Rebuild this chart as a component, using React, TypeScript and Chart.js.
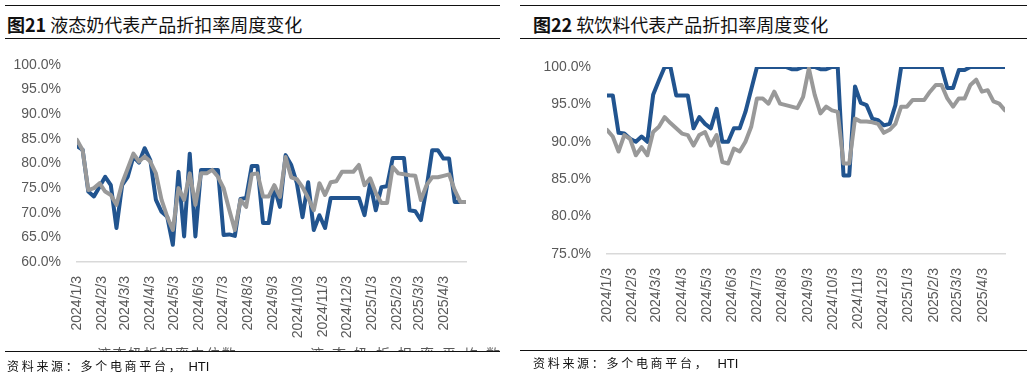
import React, { useEffect, useRef } from "react";
import { Chart, registerables } from "chart.js";

Chart.register(...registerables);

// ---- Data ----
const tickLabels = [
  "2024/1/3", "2024/2/3", "2024/3/3", "2024/4/3", "2024/5/3", "2024/6/3",
  "2024/7/3", "2024/8/3", "2024/9/3", "2024/10/3", "2024/11/3", "2024/12/3",
  "2025/1/3", "2025/2/3", "2025/3/3", "2025/4/3",
];

// 液态奶 (liquid milk) weekly discount rate, %
const milkMedian = [
  83.5, 82.8, 74.3, 73.3, 75.3, 77.3, 75.6, 66.9, 75.6, 77.3,
  81.4, 80.2, 83.1, 80.7, 72.6, 70.2, 69.2, 63.5, 78.3, 65.2,
  82.0, 65.2, 78.7, 78.7, 78.7, 78.7, 65.5, 65.6, 65.3, 72.8,
  73.0, 79.5, 79.5, 67.9, 67.9, 75.2, 71.2, 81.7, 79.7, 76.0,
  69.1, 76.2, 66.5, 69.5, 66.9, 73.0, 73.0, 73.0, 73.0, 73.0,
  73.0, 69.5, 76.0, 70.5, 75.2, 75.4, 81.1, 81.1, 81.1, 70.5,
  70.3, 68.5, 75.0, 82.7, 82.7, 81.0, 81.0, 72.2, 72.2, 72.2,
];
const milkMean = [
  84.8, 82.7, 74.6, 75.0, 76.0, 74.3, 73.6, 71.6, 76.0, 79.0,
  82.0, 80.4, 81.4, 80.4, 78.0, 72.6, 69.2, 66.5, 75.0, 72.6,
  78.0, 71.6, 78.0, 78.0, 78.7, 77.3, 75.0, 70.6, 66.5, 72.6,
  71.2, 77.8, 78.0, 73.3, 73.3, 75.6, 73.2, 81.3, 77.2, 76.8,
  75.2, 73.0, 70.5, 76.0, 73.6, 76.2, 76.4, 78.3, 78.3, 78.3,
  79.7, 75.6, 77.0, 74.0, 72.0, 72.0, 79.3, 78.0, 77.8, 77.6,
  77.5, 72.6, 75.6, 77.2, 77.2, 77.5, 77.8, 74.6, 72.2, 72.2,
];

// 软饮料 (soft drinks) weekly discount rate, %
const drinkMedian = [
  96.2, 96.2, 91.2, 91.1, 90.4, 90.0, 90.7, 90.0, 96.3, 98.2,
  100, 100, 96.2, 96.2, 96.2, 91.8, 93.3, 92.4, 91.8, 94.4,
  90.0, 90.0, 91.8, 91.8, 94.0, 97.0, 100, 100, 100, 100,
  100, 100, 99.7, 99.7, 100, 100, 100, 99.7, 99.7, 100,
  100, 85.5, 85.5, 97.4, 95.2, 94.9, 93.1, 92.9, 92.2, 92.4,
  94.9, 100, 100, 100, 100, 100, 100, 100, 100, 97.2,
  97.2, 99.6, 99.6, 100, 100, 100, 100, 100, 100, 100,
];
const drinkMean = [
  91.6, 90.7, 88.7, 90.9, 90.4, 88.2, 89.3, 88.2, 91.3, 92.0,
  93.3, 92.5, 91.8, 91.1, 90.9, 89.5, 90.9, 91.3, 89.5, 90.9,
  87.3, 87.1, 89.1, 88.7, 90.0, 92.0, 95.8, 95.8, 95.1, 96.7,
  95.1, 94.9, 94.7, 94.5, 96.0, 99.8, 96.3, 93.8, 94.7, 94.2,
  94.0, 87.1, 87.1, 93.1, 92.7, 92.7, 92.6, 92.4, 91.2, 91.6,
  92.4, 94.7, 94.7, 95.6, 95.6, 95.6, 96.7, 97.6, 97.6, 95.8,
  94.7, 95.8, 95.8, 97.6, 98.3, 96.7, 96.9, 95.4, 95.1, 94.2,
];

const BLUE = "#21548F";
const GRAY = "#999999";
const TICK_COLOR = "#595959";
const TICK_FONT = { family: "'Liberation Sans', Arial, sans-serif", size: 14 };

const DAY = 86400000;
const START = Date.UTC(2024, 0, 3);
function dayOffset(label: string) {
  const [y, m, d] = label.split("/").map(Number);
  return Math.round((Date.UTC(y, m - 1, d) - START) / DAY);
}
const tickDays = tickLabels.map(dayOffset);

type Geo = { yw: number; xh: number; top: number; right: number };

function makeConfig(
  median: number[],
  mean: number[],
  medianLabel: string,
  meanLabel: string,
  yMin: number,
  yMax: number,
  g: Geo
): any {
  const xMax = (median.length - 1) * 7;
  const toPts = (arr: number[]) => arr.map((v, i) => ({ x: i * 7, y: v }));
  return {
    type: "line",
    data: {
      datasets: [
        {
          label: medianLabel,
          data: toPts(median),
          borderColor: BLUE,
          backgroundColor: BLUE,
          borderWidth: 4,
          pointRadius: 0,
          tension: 0,
          borderJoinStyle: "round",
          borderCapStyle: "round",
          order: 1,
        },
        {
          label: meanLabel,
          data: toPts(mean),
          borderColor: GRAY,
          backgroundColor: GRAY,
          borderWidth: 4,
          pointRadius: 0,
          tension: 0,
          borderJoinStyle: "round",
          borderCapStyle: "round",
          order: 0,
        },
      ],
    },
    options: {
      responsive: false,
      maintainAspectRatio: false,
      animation: false,
      events: [],
      layout: { padding: { top: g.top, right: g.right, bottom: 0, left: 0 } },
      plugins: { legend: { display: false }, tooltip: { enabled: false } },
      scales: {
        x: {
          type: "linear",
          min: 0,
          max: xMax,
          afterBuildTicks: (s: any) => {
            s.ticks = tickDays.map((v) => ({ value: v }));
          },
          afterFit: (s: any) => {
            s.height = g.xh;
            s.paddingLeft = 0;
            s.paddingRight = 0;
          },
          ticks: {
            autoSkip: false,
            minRotation: 90,
            maxRotation: 90,
            padding: 14,
            color: TICK_COLOR,
            font: TICK_FONT,
            callback: (_v: any, i: number) => tickLabels[i],
          },
          grid: { display: false, drawTicks: false },
          border: { display: true, color: "#D9D9D9", width: 1.5 },
        },
        y: {
          min: yMin,
          max: yMax,
          afterFit: (s: any) => {
            s.width = g.yw;
            s.paddingTop = 0;
            s.paddingBottom = 0;
          },
          ticks: {
            stepSize: 5,
            padding: 16,
            color: TICK_COLOR,
            font: TICK_FONT,
            callback: (v: any) => Number(v).toFixed(1) + "%",
          },
          grid: { display: false, drawTicks: false },
          border: { display: false },
        },
      },
    },
  };
}

function LineChart(props: {
  cfg: () => any;
  left: number;
  top: number;
  width: number;
  height: number;
}) {
  const ref = useRef<HTMLCanvasElement>(null);
  useEffect(() => {
    const chart = new Chart(ref.current as HTMLCanvasElement, props.cfg());
    return () => chart.destroy();
  }, []);
  return (
    <canvas
      ref={ref}
      width={props.width}
      height={props.height}
      style={{
        position: "absolute",
        left: props.left,
        top: props.top,
        width: props.width,
        height: props.height,
        display: "block",
      }}
    />
  );
}

const CJK = "'Noto Sans CJK SC', 'Noto Sans', sans-serif";

function Rule(p: { x: number; y: number; w: number }) {
  return (
    <div
      style={{
        position: "absolute",
        left: p.x,
        top: p.y,
        width: p.w,
        height: 1,
        background: "#111",
      }}
    />
  );
}

function Title(p: { x: number; num: string; text: string }) {
  return (
    <div
      style={{
        position: "absolute",
        left: p.x,
        top: 13,
        fontFamily: CJK,
        fontSize: 18,
        lineHeight: "22px",
        color: "#111",
        whiteSpace: "nowrap",
      }}
    >
      <span style={{ fontWeight: 700 }}>{p.num}</span>
      <span> {p.text}</span>
    </div>
  );
}

function Source(p: { x: number; y: number; gap: number }) {
  return (
    <div
      style={{
        position: "absolute",
        left: p.x,
        top: p.y,
        whiteSpace: "nowrap",
        color: "#111",
        lineHeight: "16px",
      }}
    >
      <span style={{ fontFamily: CJK, fontSize: 12, letterSpacing: 2.7 }}>
        资料来源：多个电商平台，
      </span>
      <span
        style={{
          fontFamily: "'Liberation Sans', Arial, sans-serif",
          fontSize: 13,
          marginLeft: p.gap,
        }}
      >
        HTI
      </span>
    </div>
  );
}

export default function App() {
  return (
    <div
      style={{
        position: "absolute",
        left: 0,
        top: 0,
        width: 1033,
        height: 378,
        background: "#fff",
        overflow: "hidden",
      }}
    >
      {/* Left panel */}
      <Rule x={5} y={5} w={495} />
      <Title x={7} num="图21" text="液态奶代表产品折扣率周度变化" />
      <Rule x={5} y={38} w={495} />
      <LineChart
        left={0}
        top={50}
        width={500}
        height={295}
        cfg={() =>
          makeConfig(milkMedian, milkMean, "液态奶折扣率中位数", "液态奶折扣率平均数", 60, 100, {
            yw: 77,
            xh: 83,
            top: 15,
            right: 34,
          })
        }
      />
      {/* cut-off legend fragments */}
      <div
        style={{
          position: "absolute",
          left: 0,
          top: 340,
          width: 520,
          height: 11,
          overflow: "hidden",
        }}
      >
        <div
          style={{
            position: "absolute",
            left: 97,
            top: 6,
            fontFamily: CJK,
            fontSize: 14,
            lineHeight: "14px",
            letterSpacing: 1.6,
            color: "#595959",
            whiteSpace: "nowrap",
          }}
        >
          液态奶折扣率中位数
        </div>
        <div
          style={{
            position: "absolute",
            left: 310,
            top: 6,
            fontFamily: CJK,
            fontSize: 14,
            lineHeight: "14px",
            letterSpacing: 8,
            color: "#595959",
            whiteSpace: "nowrap",
          }}
        >
          液态奶折扣率平均数
        </div>
      </div>
      <Rule x={5} y={351} w={495} />
      <Source x={7} y={358} gap={5} />

      {/* Right panel */}
      <Rule x={520} y={5} w={507} />
      <Title x={533} num="图22" text="软饮料代表产品折扣率周度变化" />
      <Rule x={520} y={38} w={507} />
      <LineChart
        left={520}
        top={50}
        width={513}
        height={295}
        cfg={() =>
          makeConfig(drinkMedian, drinkMean, "软饮料折扣率中位数", "软饮料折扣率平均数", 75, 100, {
            yw: 87,
            xh: 91,
            top: 17,
            right: 28,
          })
        }
      />
      <Rule x={520} y={350} w={507} />
      <Source x={533} y={355} gap={8} />
    </div>
  );
}
